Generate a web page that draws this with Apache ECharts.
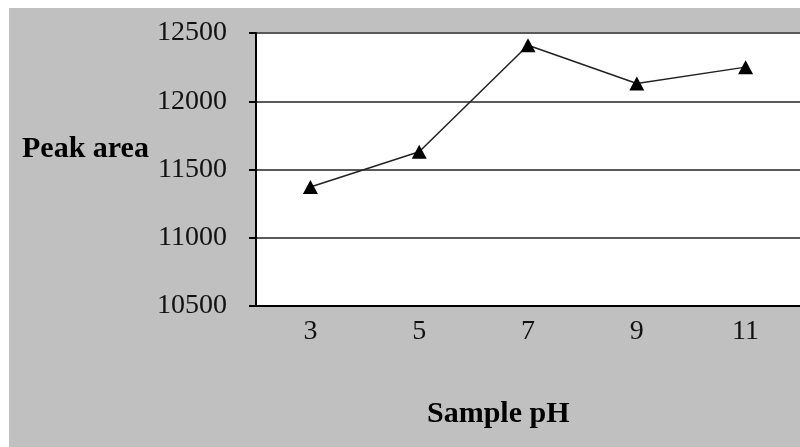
<!DOCTYPE html>
<html>
<head>
<meta charset="utf-8">
<script src="https://cdn.jsdelivr.net/npm/echarts@6/dist/echarts.min.js"></script>
<style>
  html, body { margin: 0; padding: 0; background: #fff; }
  #chart { width: 800px; height: 447px; }
</style>
</head>
<body>
<div id="chart"></div>
<script>
// Sample pH values on the category axis
const phLevels = ['3', '5', '7', '9', '11'];
// Measured peak area at each pH
const peakArea = [11372, 11630, 12410, 12130, 12250];
// Value axis range and step
const yMin = 10500;
const yMax = 12500;
const yStep = 500;

const chart = echarts.init(document.getElementById('chart'));

const serif = '"Liberation Serif", "Times New Roman", serif';

chart.setOption({
  animation: false,
  backgroundColor: '#ffffff',
  graphic: [
    {
      type: 'rect',
      z: -10,
      silent: true,
      shape: { x: 9, y: 8, width: 791, height: 439 },
      style: { fill: '#c0c0c0' }
    },
    {
      type: 'text',
      left: 22,
      top: 134,
      style: {
        text: 'Peak area',
        font: 'bold 30px ' + serif,
        fill: '#000'
      }
    },
    {
      type: 'text',
      left: 427,
      top: 399,
      style: {
        text: 'Sample pH',
        font: 'bold 30px ' + serif,
        fill: '#000'
      }
    }
  ],
  grid: {
    left: 256,
    top: 33,
    right: -6,
    bottom: 141,
    show: true,
    backgroundColor: '#ffffff',
    borderWidth: 0
  },
  xAxis: {
    type: 'category',
    data: phLevels,
    boundaryGap: true,
    axisLine: { show: true, lineStyle: { color: '#000', width: 2 } },
    axisTick: { show: false },
    axisLabel: {
      color: '#111',
      fontFamily: serif,
      fontSize: 28,
      margin: 12
    },
    splitLine: { show: false }
  },
  yAxis: {
    type: 'value',
    min: yMin,
    max: yMax,
    interval: yStep,
    axisLine: { show: true, lineStyle: { color: '#000', width: 2 } },
    axisTick: { show: true, length: 7, lineStyle: { color: '#000', width: 2 } },
    axisLabel: {
      color: '#111',
      fontFamily: serif,
      fontSize: 28,
      margin: 29,
      padding: [7, 0, 0, 0],
      formatter: (v) => String(v)
    },
    splitLine: { show: true, lineStyle: { color: '#5a5a5a', width: 2 } }
  },
  series: [
    {
      type: 'line',
      data: peakArea,
      symbol: 'triangle',
      symbolSize: [15, 14],
      itemStyle: { color: '#000' },
      lineStyle: { color: '#222', width: 1.5 }
    }
  ]
});
</script>
</body>
</html>
